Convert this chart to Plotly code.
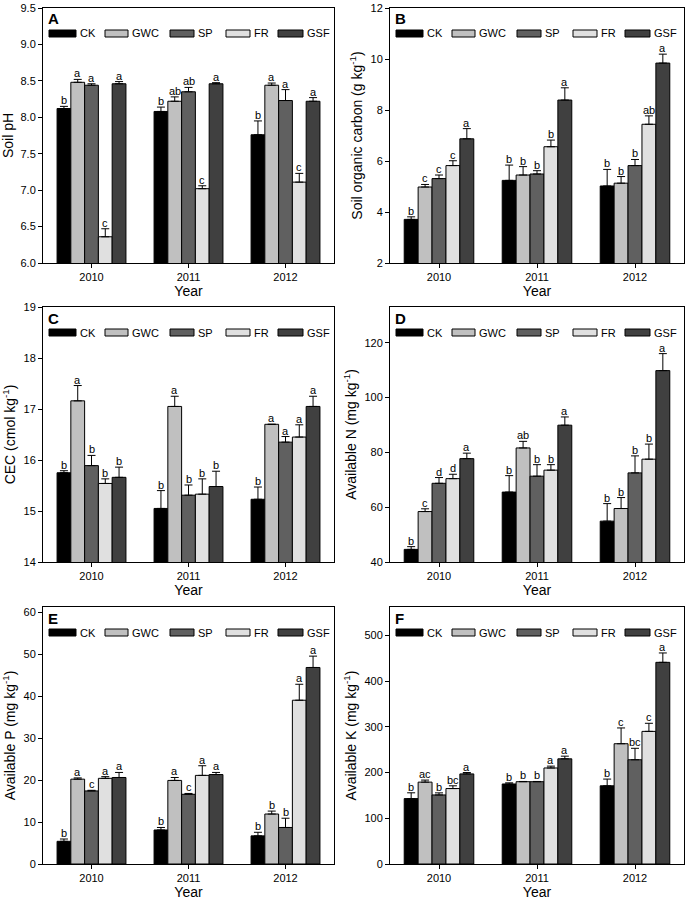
import plotly.graph_objects as go
from plotly.subplots import make_subplots

years = ["2010", "2011", "2012"]
treatments = ["CK", "GWC", "SP", "FR", "GSF"]
colors = ["#000000", "#c0c0c0", "#606060", "#e0e0e0", "#404040"]

ph_mean = [[8.12, 8.08, 7.76], [8.48, 8.22, 8.44], [8.44, 8.35, 8.23], [6.36, 7.02, 7.11], [8.46, 8.46, 8.22]]
ph_err = [[0.03, 0.06, 0.19], [0.04, 0.06, 0.03], [0.02, 0.06, 0.15], [0.11, 0.04, 0.12], [0.03, 0.015, 0.05]]
ph_let = [["b", "b", "b"], ["a", "ab", "a"], ["a", "ab", "a"], ["c", "c", "c"], ["a", "a", "a"]]

soc_mean = [[3.71, 5.24, 5.02], [4.98, 5.45, 5.13], [5.31, 5.49, 5.82], [5.82, 6.56, 7.44], [6.87, 8.39, 9.84]]
soc_err = [[0.1, 0.6, 0.65], [0.1, 0.33, 0.26], [0.14, 0.13, 0.24], [0.19, 0.26, 0.33], [0.4, 0.48, 0.35]]
soc_let = [["b", "b", "b"], ["c", "b", "b"], ["c", "b", "b"], ["c", "b", "ab"], ["a", "a", "a"]]

cec_mean = [[15.75, 15.05, 15.23], [17.16, 17.05, 16.70], [15.89, 15.31, 16.35], [15.54, 15.33, 16.45], [15.66, 15.48, 17.05]]
cec_err = [[0.04, 0.35, 0.24], [0.3, 0.2, 0.0], [0.2, 0.2, 0.11], [0.09, 0.3, 0.24], [0.2, 0.3, 0.2]]
cec_let = [["b", "b", "b"], ["a", "a", "a"], ["b", "b", "a"], ["b", "b", "a"], ["b", "b", "a"]]

an_mean = [[44.6, 65.5, 54.9], [58.4, 81.6, 59.5], [68.7, 71.3, 72.5], [70.4, 73.5, 77.5], [77.7, 89.9, 109.8]]
an_err = [[1.0, 6.0, 6.4], [1.0, 2.4, 4.0], [2.1, 4.2, 6.2], [1.6, 2.0, 5.5], [2.0, 3.0, 6.2]]
an_let = [["b", "b", "b"], ["c", "ab", "b"], ["d", "b", "b"], ["d", "b", "b"], ["a", "a", "a"]]

ap_mean = [[5.4, 8.1, 6.7], [20.2, 19.9, 11.9], [17.4, 16.6, 8.7], [20.4, 21.1, 39.0], [20.6, 21.3, 46.8]]
ap_err = [[0.55, 0.6, 0.85], [0.3, 0.7, 0.7], [0.15, 0.2, 2.2], [0.4, 2.3, 3.8], [1.2, 0.5, 2.7]]
ap_let = [["b", "b", "b"], ["a", "a", "b"], ["c", "c", "b"], ["a", "a", "a"], ["a", "a", "a"]]

ak_mean = [[143, 175, 171], [179, 180, 263], [151, 180, 228], [165, 210, 290], [197, 230, 441]]
ak_err = [[12.7, 2.5, 14.7], [4.5, 0.5, 34.5], [4.5, 0.5, 25], [6, 4, 17.7], [3, 5.8, 20.5]]
ak_let = [["b", "b", "b"], ["ac", "b", "c"], ["b", "b", "bc"], ["bc", "a", "c"], ["a", "a", "a"]]

panels = [
    ("A", ph_mean, ph_err, ph_let, "Soil pH", [6.0, 9.5], [6.0, 6.5, 7.0, 7.5, 8.0, 8.5, 9.0, 9.5], ".1f"),
    ("B", soc_mean, soc_err, soc_let, "Soil organic carbon (g kg<sup>-1</sup>)", [2, 12], [2, 4, 6, 8, 10, 12], "d"),
    ("C", cec_mean, cec_err, cec_let, "CEC (cmol kg<sup>-1</sup>)", [14, 19], [14, 15, 16, 17, 18, 19], "d"),
    ("D", an_mean, an_err, an_let, "Available N (mg kg<sup>-1</sup>)", [40, 133], [40, 60, 80, 100, 120], "d"),
    ("E", ap_mean, ap_err, ap_let, "Available P (mg kg<sup>-1</sup>)", [0, 61.2], [0, 10, 20, 30, 40, 50, 60], "d"),
    ("F", ak_mean, ak_err, ak_let, "Available K (mg kg<sup>-1</sup>)", [0, 562], [0, 100, 200, 300, 400, 500], "d"),
]

W, H = 686, 903
col_px = [(43, 334), (390, 684)]
row_px = [(8, 263), (307, 562), (607, 864)]

FONT = "Liberation Sans, Arial, sans-serif"
BARGAP = 0.29
bw = (1 - BARGAP) / len(treatments)

fig = make_subplots(rows=3, cols=2)
xpos = [0, 1, 2]

annotations = []
shapes = []

for p, (lab, mean, err, let, ytitle, yr, ytv, fmt) in enumerate(panels):
    r, c = p // 2, p % 2
    ax = "" if p == 0 else str(p + 1)
    for i, t in enumerate(treatments):
        fig.add_trace(go.Bar(
            x=xpos, y=mean[i], name=t, showlegend=False,
            marker=dict(color=colors[i], line=dict(color="#000000", width=1)),
            error_y=dict(type="data", symmetric=False, array=err[i], arrayminus=[0] * 3,
                         color="#000000", thickness=1, width=4),
        ), row=r + 1, col=c + 1)
        for k in range(3):
            annotations.append(dict(
                x=xpos[k] + (i - 2) * bw, y=mean[i][k] + err[i][k], xref="x" + ax, yref="y" + ax,
                text=let[i][k], showarrow=False, yanchor="bottom", yshift=-2,
                font=dict(family=FONT, size=11, color="#000000")))
    x0, x1 = col_px[c]
    y0, y1 = row_px[r]
    fig.layout["xaxis" + ax].update(
        domain=[x0 / W, x1 / W], range=[-0.5, 2.5], tickvals=xpos, ticktext=years,
        showline=True, linecolor="#000000", linewidth=1, mirror=True, automargin=False,
        ticks="outside", ticklen=4, tickcolor="#000000", showgrid=False, zeroline=False,
        tickfont=dict(family=FONT, size=11, color="#000000"),
        title=dict(text="Year", font=dict(family=FONT, size=14, color="#000000"), standoff=2))
    fig.layout["yaxis" + ax].update(
        domain=[1 - y1 / H, 1 - y0 / H], range=yr, tickvals=ytv, tickformat=fmt,
        showline=True, linecolor="#000000", linewidth=1, mirror=True, automargin=False,
        ticks="outside", ticklen=4, tickcolor="#000000", showgrid=False, zeroline=False,
        tickfont=dict(family=FONT, size=11, color="#000000"),
        title=dict(text=ytitle, font=dict(family=FONT, size=14, color="#000000"), standoff=4))
    # panel letter
    annotations.append(dict(x=0, y=1, xref="x" + ax + " domain", yref="y" + ax + " domain",
                            text="<b>" + lab + "</b>", showarrow=False, xanchor="left", yanchor="middle",
                            xshift=3, yshift=-11, font=dict(family=FONT, size=15, color="#000000")))
    # legend
    sw = [(6, 33), (62, 85), (127, 151), (183, 207), (235, 260)]
    for i, t in enumerate(treatments):
        a, b = sw[i]
        shapes.append(dict(type="rect", xref="x" + ax + " domain", yref="y" + ax + " domain",
                           xsizemode="pixel", ysizemode="pixel", xanchor=0, yanchor=1,
                           x0=a, x1=b, y0=-29, y1=-22,
                           fillcolor=colors[i], line=dict(color="#000000", width=1)))
        annotations.append(dict(x=0, y=1, xref="x" + ax + " domain", yref="y" + ax + " domain",
                                text=t, showarrow=False, xanchor="left", yanchor="middle",
                                xshift=b + 2, yshift=-25.5,
                                font=dict(family=FONT, size=11, color="#000000")))

fig.update_layout(
    width=W, height=H, margin=dict(l=0, r=0, t=0, b=0),
    paper_bgcolor="#ffffff", plot_bgcolor="#ffffff",
    barmode="group", bargap=BARGAP, bargroupgap=0,
    annotations=annotations, shapes=shapes,
    font=dict(family=FONT, color="#000000"),
)

fig.write_html("out.html", config={"displayModeBar": False},
               post_script="document.body.style.margin='0px';document.body.style.padding='0px';")
